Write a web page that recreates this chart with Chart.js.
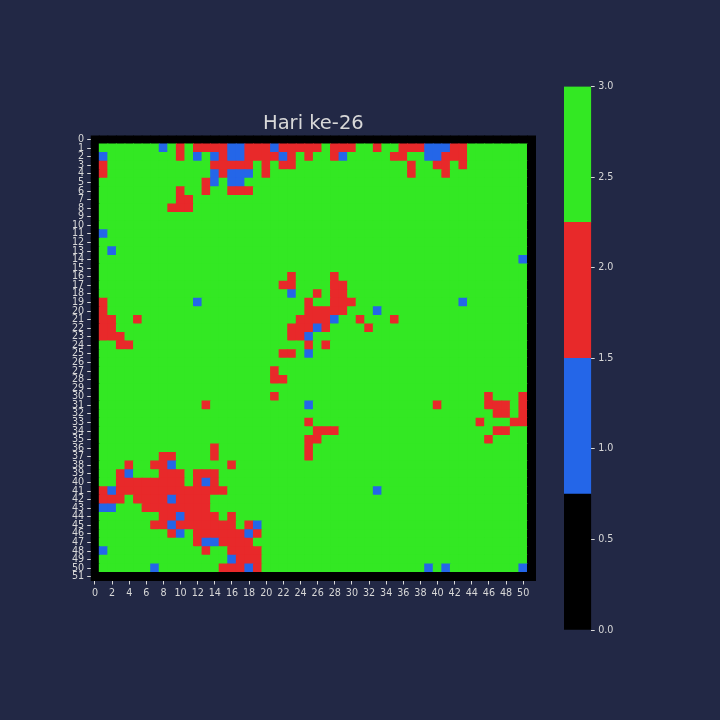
<!DOCTYPE html>
<html><head><meta charset="utf-8">
<script src="https://cdn.jsdelivr.net/npm/chart.js@4/dist/chart.umd.min.js"></script>
<style>
html,body{margin:0;padding:0;background:#222845;}
#wrap{position:relative;width:720px;height:720px;overflow:hidden;}
#main{position:absolute;left:0;top:0;width:720px;height:720px;}
#cbar{position:absolute;left:500px;top:0;width:220px;height:720px;}
</style></head><body>
<div id="wrap">
<canvas id="main" width="720" height="720"></canvas>
<canvas id="cbar" width="220" height="720"></canvas>
</div>
<script>
const chartTitle = 'Hari ke-26';
const xTicks = [0,2,4,6,8,10,12,14,16,18,20,22,24,26,28,30,32,34,36,38,40,42,44,46,48,50];
const yTicks = [0,1,2,3,4,5,6,7,8,9,10,11,12,13,14,15,16,17,18,19,20,21,22,23,24,25,26,27,28,29,30,31,32,33,34,35,36,37,38,39,40,41,42,43,44,45,46,47,48,49,50,51];
const cbTicks = [0,0.5,1,1.5,2,2.5,3];
const levelColors = ['#000000','#2466e8','#e8292a','#33e823'];
const levelBounds = [0,0.75,1.5,2.25,3];
// cell values per row (0 black, 1 blue, 2 red, 3 green), columns 0..51
const gridRows = [
"0000000000 0000000000 0000000000 0000000000 0000000000 00",
"0333333313 2322221122 2122222322 2332332221 1122333333 30",
"0133333333 2313121122 2212323321 3333322331 1222333333 30",
"0233333333 3333222223 2322333333 3333333233 2232333333 30",
"0233333333 3333121113 2333333333 3333333233 3233333333 30",
"0333333333 3332131133 3333333333 3333333333 3333333333 30",
"0333333333 2332332223 3333333333 3333333333 3333333333 30",
"0333333333 2233333333 3333333333 3333333333 3333333333 30",
"0333333332 2233333333 3333333333 3333333333 3333333333 30",
"0333333333 3333333333 3333333333 3333333333 3333333333 30",
"0333333333 3333333333 3333333333 3333333333 3333333333 30",
"0133333333 3333333333 3333333333 3333333333 3333333333 30",
"0333333333 3333333333 3333333333 3333333333 3333333333 30",
"0313333333 3333333333 3333333333 3333333333 3333333333 30",
"0333333333 3333333333 3333333333 3333333333 3333333333 10",
"0333333333 3333333333 3333333333 3333333333 3333333333 30",
"0333333333 3333333333 3332333323 3333333333 3333333333 30",
"0333333333 3333333333 3322333322 3333333333 3333333333 30",
"0333333333 3333333333 3331332322 3333333333 3333333333 30",
"0233333333 3313333333 3333323322 2333333333 3331333333 30",
"0233333333 3333333333 3333322222 3331333333 3333333333 30",
"0223323333 3333333333 3333222213 3233323333 3333333333 30",
"0223333333 3333333333 3332221233 3323333333 3333333333 30",
"0222333333 3333333333 3332213333 3333333333 3333333333 30",
"0332233333 3333333333 3333323233 3333333333 3333333333 30",
"0333333333 3333333333 3322313333 3333333333 3333333333 30",
"0333333333 3333333333 3333333333 3333333333 3333333333 30",
"0333333333 3333333333 3233333333 3333333333 3333333333 30",
"0333333333 3333333333 3223333333 3333333333 3333333333 30",
"0333333333 3333333333 3333333333 3333333333 3333333333 30",
"0333333333 3333333333 3233333333 3333333333 3333332333 20",
"0333333333 3332333333 3333313333 3333333333 2333332223 20",
"0333333333 3333333333 3333333333 3333333333 3333333223 20",
"0333333333 3333333333 3333323333 3333333333 3333323332 20",
"0333333333 3333333333 3333332223 3333333333 3333333223 30",
"0333333333 3333333333 3333322333 3333333333 3333332333 30",
"0333333333 3333233333 3333323333 3333333333 3333333333 30",
"0333333322 3333233333 3333323333 3333333333 3333333333 30",
"0333233221 3333332333 3333333333 3333333333 3333333333 30",
"0332133322 2322233333 3333333333 3333333333 3333333333 30",
"0332222222 2321233333 3333333333 3333333333 3333333333 30",
"0212222222 2222223333 3333333333 3331333333 3333333333 30",
"0222322221 2222333333 3333333333 3333333333 3333333333 30",
"0113332222 2222333333 3333333333 3333333333 3333333333 30",
"0333333322 1222232333 3333333333 3333333333 3333333333 30",
"0333333221 2222222321 3333333333 3333333333 3333333333 30",
"0333333332 1322222212 3333333333 3333333333 3333333333 30",
"0333333333 3321122223 3333333333 3333333333 3333333333 30",
"0133333333 3332332222 3333333333 3333333333 3333333333 30",
"0333333333 3333331222 3333333333 3333333333 3333333333 30",
"0333333133 3333322212 3333333333 3333333331 3133333333 10",
"0000000000 0000000000 0000000000 0000000000 0000000000 00"
];

const FONT = 'DejaVu Sans';
const TXT = '#d8d8d8';

const points = [];
gridRows.forEach((row, r) => {
  const s = row.replace(/ /g, '');
  for (let c = 0; c < s.length; c++) points.push({x: c, y: r, v: +s[c]});
});

function cellRadius(ctx) {
  const xs = ctx.chart.scales.x;
  if (!xs) return 4;
  const w = Math.abs(xs.getPixelForValue(1) - xs.getPixelForValue(0));
  return (w + 0.9) / Math.SQRT2;
}

new Chart(document.getElementById('main'), {
  type: 'scatter',
  data: { datasets: [{
    data: points,
    pointStyle: 'rect',
    pointRadius: cellRadius,
    pointHoverRadius: cellRadius,
    borderWidth: 0,
    pointBorderWidth: 0,
    backgroundColor: (ctx) => levelColors[ctx.raw ? ctx.raw.v : 3]
  }]},
  options: {
    responsive: false, animation: false, events: [],
    layout: { padding: { left: 0.7, right: 184, top: 0, bottom: 109 } },
    plugins: {
      legend: { display: false }, tooltip: { enabled: false },
      title: { display: true, text: chartTitle, color: TXT, fullSize: false,
        font: { family: FONT, size: 19.5, weight: 'normal', lineHeight: 1.2 },
        padding: { top: 112, bottom: 0 } }
    },
    scales: {
      x: { type: 'linear', min: -0.5, max: 51.5,
        afterBuildTicks: (s) => { s.ticks = xTicks.map(v => ({ value: v })); },
        afterFit: (s) => { s.height = 30; },
        ticks: { color: TXT, font: { family: FONT, size: 9.6 }, padding: 3, autoSkip: false,
          maxRotation: 0, minRotation: 0, callback: (v) => String(v) },
        grid: { drawOnChartArea: false, drawTicks: true, tickLength: 3.5, tickColor: TXT, color: TXT },
        border: { display: false } },
      y: { type: 'linear', reverse: true, min: -0.5, max: 51.5,
        afterBuildTicks: (s) => { s.ticks = yTicks.map(v => ({ value: v })); },
        afterFit: (s) => { s.width = 90; },
        ticks: { color: TXT, font: { family: FONT, size: 9.6 }, padding: 3, autoSkip: false,
          callback: (v) => String(v) },
        grid: { drawOnChartArea: false, drawTicks: true, tickLength: 3.5, tickColor: TXT, color: TXT },
        border: { display: false } }
    }
  }
});

new Chart(document.getElementById('cbar'), {
  type: 'bar',
  data: { labels: ['c'], datasets: levelColors.map((col, i) => ({
    data: [[levelBounds[i], levelBounds[i + 1]]],
    backgroundColor: col, borderWidth: 0,
    barPercentage: 1, categoryPercentage: 1, grouped: false
  })) },
  options: {
    responsive: false, animation: false, events: [],
    layout: { padding: { left: 64, right: 68.8, top: 86.5, bottom: 90 } },
    plugins: { legend: { display: false }, tooltip: { enabled: false }, title: { display: false } },
    scales: {
      x: { display: false },
      y: { position: 'right', min: 0, max: 3,
        afterBuildTicks: (s) => { s.ticks = cbTicks.map(v => ({ value: v })); },
        afterFit: (s) => { s.width = 60; },
        ticks: { color: TXT, font: { family: FONT, size: 9.6 }, padding: 3.5,
          callback: (v) => Number(v).toFixed(1) },
        grid: { drawOnChartArea: false, drawTicks: true, tickLength: 3.5, tickColor: TXT, color: TXT },
        border: { display: false } }
    }
  }
});
</script>
</body></html>
